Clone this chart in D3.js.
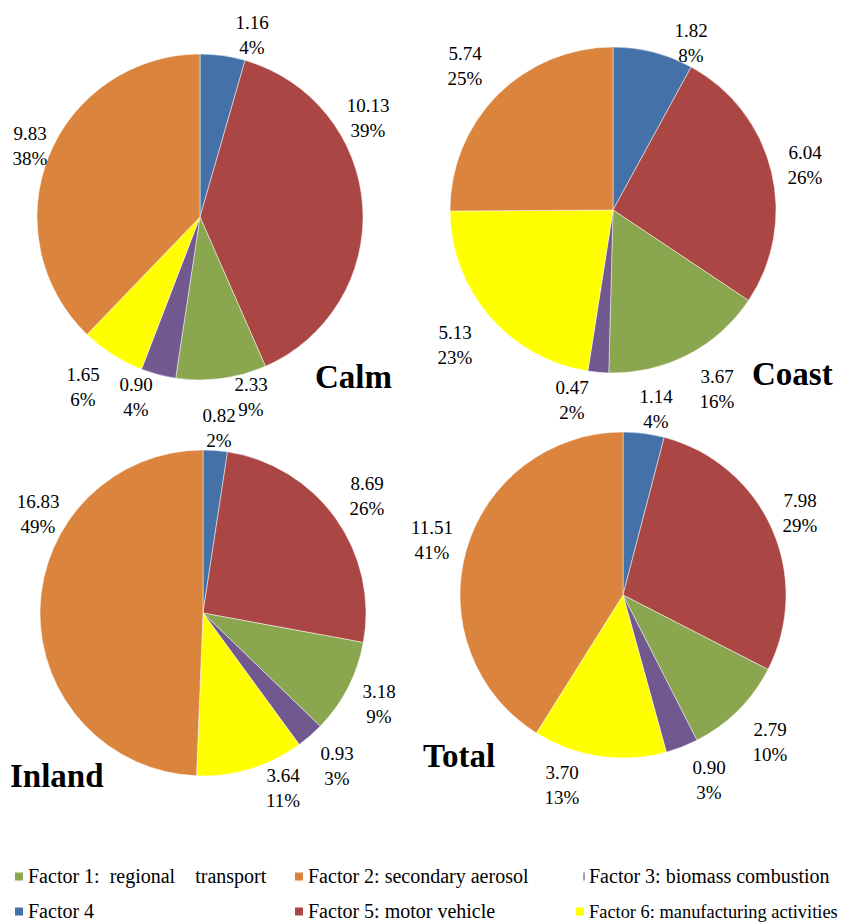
<!DOCTYPE html>
<html>
<head>
<meta charset="utf-8">
<script src="https://cdn.jsdelivr.net/npm/d3@7/dist/d3.min.js"></script>
<style>
  html, body { margin: 0; padding: 0; background: #fff; }
  svg { display: block; }
  text { font-family: "Liberation Serif", "Times New Roman", serif; fill: #000; }
</style>
</head>
<body>
<svg id="chart" width="841" height="923"></svg>
<script>
// Slice order, clockwise from 12 o'clock
const factorKeys = ["Factor 4", "Factor 5", "Factor 1", "Factor 3", "Factor 6", "Factor 2"];

// Site names
const sites = ["Calm", "Coast", "Inland", "Total"];

// Source contributions per site (value, in slice order)
const calmValues   = [1.16, 10.13, 2.33, 0.90, 1.65, 9.83];
const coastValues  = [1.82, 6.04, 3.67, 0.47, 5.13, 5.74];
const inlandValues = [0.82, 8.69, 3.18, 0.93, 3.64, 16.83];
const totalValues  = [1.14, 7.98, 2.79, 0.90, 3.70, 11.51];

// Percentage labels per site (slice order)
const calmPercents   = ["4%", "39%", "9%", "4%", "6%", "38%"];
const coastPercents  = ["8%", "26%", "16%", "2%", "23%", "25%"];
const inlandPercents = ["2%", "26%", "9%", "3%", "11%", "49%"];
const totalPercents  = ["4%", "29%", "10%", "3%", "13%", "41%"];

// Legend entries, in reading order
const legendKeys   = ["Factor 1", "Factor 2", "Factor 3", "Factor 4", "Factor 5", "Factor 6"];
const legendLabels = [
  "Factor 1:  regional    transport",
  "Factor 2: secondary aerosol",
  "Factor 3: biomass combustion",
  "Factor 4",
  "Factor 5: motor vehicle",
  "Factor 6: manufacturing activities"
];

// ---- styling & layout ----
const color = d3.scaleOrdinal()
  .domain(["Factor 1", "Factor 2", "Factor 3", "Factor 4", "Factor 5", "Factor 6"])
  .range(["#8aa64f", "#db843d", "#71588f", "#4472a8", "#aa4643", "#ffff00"]);

const radius = 163;
const width = 841;

// Pie centres, site title anchors and data-label offsets (relative to pie centre)
const layout = {
  Calm:   { cx: 200, cy: 217, title: [315, 388],
            labels: [[52, -182], [168, -99], [51, 180], [-64, 180], [-117, 170], [-170, -71]] },
  Coast:  { cx: 613, cy: 210, title: [752, 385],
            labels: [[78, -167], [192, -45], [104, 179], [-41, 190], [-158, 135], [-148, -144]] },
  Inland: { cx: 203, cy: 613, title: [10, 787],
            labels: [[16, -185], [164, -117], [176, 91], [134, 153], [80, 175], [-165, -99]] },
  Total:  { cx: 623, cy: 595, title: [423, 767],
            labels: [[33, -186], [177, -82], [147, 147], [86, 185], [-61, 190], [-191, -55]] }
};

const siteValues   = { Calm: calmValues, Coast: coastValues, Inland: inlandValues, Total: totalValues };
const sitePercents = { Calm: calmPercents, Coast: coastPercents, Inland: inlandPercents, Total: totalPercents };

const svg = d3.select("#chart");

const pie = d3.pie().sort(null).value(d => d.value);
const arc = d3.arc().innerRadius(0).outerRadius(radius);

sites.forEach(site => {
  const L = layout[site];
  const rows = factorKeys.map((k, i) => ({
    key: k, value: siteValues[site][i], pct: sitePercents[site][i]
  }));
  const g = svg.append("g").attr("transform", `translate(${L.cx},${L.cy})`);

  g.selectAll("path.slice")
    .data(pie(rows))
    .join("path")
    .attr("class", "slice")
    .attr("d", arc)
    .attr("fill", d => color(d.data.key))
    .attr("stroke", "#ffffff")
    .attr("stroke-width", 0.6)
    .attr("stroke-opacity", 0.8);

  const lab = g.selectAll("text.lab")
    .data(rows)
    .join("text")
    .attr("class", "lab")
    .attr("text-anchor", "middle")
    .attr("font-size", 19);
  lab.append("tspan")
    .attr("x", (d, i) => L.labels[i][0])
    .attr("y", (d, i) => L.labels[i][1] - 12.5)
    .attr("dy", "0.35em")
    .text(d => d.value.toFixed(2));
  lab.append("tspan")
    .attr("x", (d, i) => L.labels[i][0])
    .attr("y", (d, i) => L.labels[i][1] + 12.5)
    .attr("dy", "0.35em")
    .text(d => d.pct);

  svg.append("text")
    .attr("x", L.title[0])
    .attr("y", L.title[1])
    .attr("font-size", 33)
    .attr("font-weight", "bold")
    .text(site);
});

// ---- legend ----
const legendCols = [15, 295, 576];
const legendRows = [876.5, 911.5];
const legendFont = 20;
const legend = svg.append("g");
legendKeys.forEach((k, i) => {
  const x = legendCols[i % 3];
  const y = legendRows[Math.floor(i / 3)];
  const thin = k === "Factor 3";
  legend.append("rect")
    .attr("x", thin ? x + 7 : x)
    .attr("y", y - 4)
    .attr("width", thin ? 2 : 8)
    .attr("height", 8)
    .attr("fill", thin ? "#a89cbc" : color(k));
  const t = legend.append("text")
    .attr("x", x + 13)
    .attr("y", y + 6.5)
    .attr("font-size", legendFont)
    .attr("xml:space", "preserve")
    .style("white-space", "pre")
    .text(legendLabels[i]);
  // shrink the longest entry so it stays inside the page edge
  const room = width - (x + 13) - 3;
  const len = t.node().getComputedTextLength();
  if (len > room) {
    t.attr("font-size", Math.floor(legendFont * room / len * 10) / 10);
  }
});
</script>
</body>
</html>
